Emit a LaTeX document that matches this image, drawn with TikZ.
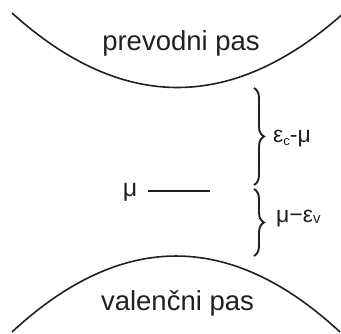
\documentclass[tikz,border=0pt]{standalone}
\usepackage{fontspec}
\setmainfont{Liberation Sans}
\usetikzlibrary{decorations.pathreplacing}
\definecolor{ink}{RGB}{35,31,32}
\tikzset{
  band/.style={draw=ink, line width=1.6pt},
  bandlabel/.style={text=ink, font=\fontsize{27.5}{30}\selectfont, inner sep=0pt, anchor=base},
  sidelabel/.style={text=ink, font=\fontsize{23}{26}\selectfont, inner sep=0pt, anchor=base west},
  bracestyle/.style={draw=ink, line width=1.9pt, decorate, decoration={brace, amplitude=10pt}},
  level/.style={draw=ink, line width=1.4pt}
}
\begin{document}
\begin{tikzpicture}[x=1pt,y=1pt]
\useasboundingbox (0,0) rectangle (341,-333);
% bands
\draw[band] (12,-13) .. controls (122.7,-113) and (234,-112.3) .. (346,-11);
\draw[band] (12,-332) .. controls (121.3,-230.7) and (230.7,-230.7) .. (340,-332);
\node[bandlabel] (cb) at (181,-50) {prevodni pas};
\node[bandlabel] (vb) at (177.5,-310) {valenčni pas};
% chemical potential
\node[text=ink, font=\fontsize{25}{28}\selectfont, inner sep=0pt, anchor=base] (mu) at (130,-196) {μ};
\coordinate (l1) at (148,-191);
\coordinate (l2) at (210,-191);
\draw[level] (l1) -- (l2);
% braces
\coordinate (b1) at (254,-88);
\coordinate (b2) at (254,-185);
\coordinate (b3) at (254,-189);
\coordinate (b4) at (254,-256);
\draw[bracestyle] (b1) -- (b2);
\draw[bracestyle] (b3) -- (b4);
\node[sidelabel] (gapc) at (273,-142) {ε\raisebox{-0.25ex}{\fontsize{13}{13}\selectfont c}-μ};
\node[sidelabel] (gapv) at (276,-222) {μ−ε\raisebox{-0.1ex}{\fontsize{15}{15}\selectfont v}};
\end{tikzpicture}
\end{document}
